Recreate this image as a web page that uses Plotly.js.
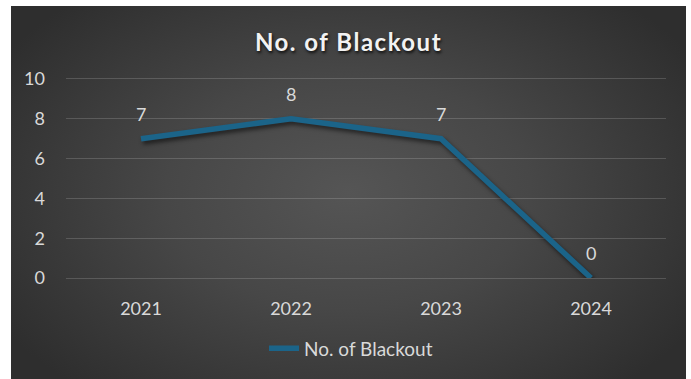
<!DOCTYPE html>
<html>
<head>
<meta charset="utf-8">
<script src="https://cdn.plot.ly/plotly-3.0.1.min.js"></script>
<style>
  html, body { margin: 0; padding: 0; background: #ffffff; }
  #wrap { position: relative; width: 691px; height: 379px; overflow: hidden; }
  #bg { position: absolute; left: 11px; top: 6px; width: 675px; height: 373px;
        background: radial-gradient(ellipse 60% 70% at 50% 50%, #555555 0%, #474747 45%, #2e2e2e 100%); }
  #chart { position: absolute; left: 0; top: 0; width: 691px; height: 379px; }
  .gtitle { letter-spacing: 1.5px; text-shadow: 1px 2px 3px rgba(0,0,0,0.8); }
  .scatterlayer .trace path.js-line { filter: drop-shadow(2px 3px 2px rgba(0,0,0,0.55)); }
</style>
</head>
<body>
<div id="wrap"><div id="bg"></div><div id="chart"></div></div>
<script>
const categories = ["2021", "2022", "2023", "2024"];
const blackouts = [7, 8, 7, 0];
const seriesName = "No. of Blackout";
const chartTitle = "No. of Blackout";

const lineColor = "#1b6489";
const textColor = "#d9d9d9";
const gridColor = "rgba(255,255,255,0.16)";
const fontFam = "Lato, 'Open Sans', sans-serif";

const trace = {
  x: categories,
  y: blackouts,
  type: "scatter",
  mode: "lines",
  name: seriesName,
  line: { color: lineColor, width: 5.5 },
  hoverinfo: "x+y"
};

const labels = categories.map((c, i) => ({
  x: i, y: blackouts[i], xref: "x", yref: "y",
  text: String(blackouts[i]), showarrow: false,
  yshift: 25, font: { family: fontFam, size: 18, color: textColor }
}));

const layout = {
  width: 691, height: 379,
  paper_bgcolor: "rgba(0,0,0,0)",
  plot_bgcolor: "rgba(0,0,0,0)",
  margin: { l: 66, r: 25, t: 77, b: 99 },
  title: {
    text: "<b>" + chartTitle + "</b>",
    font: { family: fontFam, size: 24, color: "#f2f2f2" },
    x: 348.5 / 691, xref: "container", xanchor: "center",
    y: 1 - 43 / 379, yref: "container", yanchor: "middle"
  },
  xaxis: {
    type: "category",
    range: [-0.5, 3.5],
    showgrid: false, zeroline: false, showline: false,
    ticks: "", ticklabelstandoff: 18,
    tickfont: { family: fontFam, size: 18, color: textColor },
    fixedrange: true
  },
  yaxis: {
    range: [0, 10.1], tickvals: [0, 2, 4, 6, 8, 10],
    showgrid: true, gridcolor: gridColor, gridwidth: 1,
    zeroline: true, zerolinecolor: gridColor, zerolinewidth: 1,
    showline: false,
    ticks: "", ticklabelstandoff: 20,
    tickfont: { family: fontFam, size: 18, color: textColor },
    fixedrange: true
  },
  showlegend: true,
  legend: {
    orientation: "h",
    x: 0.475, xanchor: "center",
    y: -0.35, yanchor: "middle",
    font: { family: fontFam, size: 19, color: textColor },
    bgcolor: "rgba(0,0,0,0)",
    itemwidth: 30
  },
  annotations: labels
};

Plotly.newPlot("chart", [trace], layout, { displayModeBar: false, staticPlot: true });
</script>
</body>
</html>
